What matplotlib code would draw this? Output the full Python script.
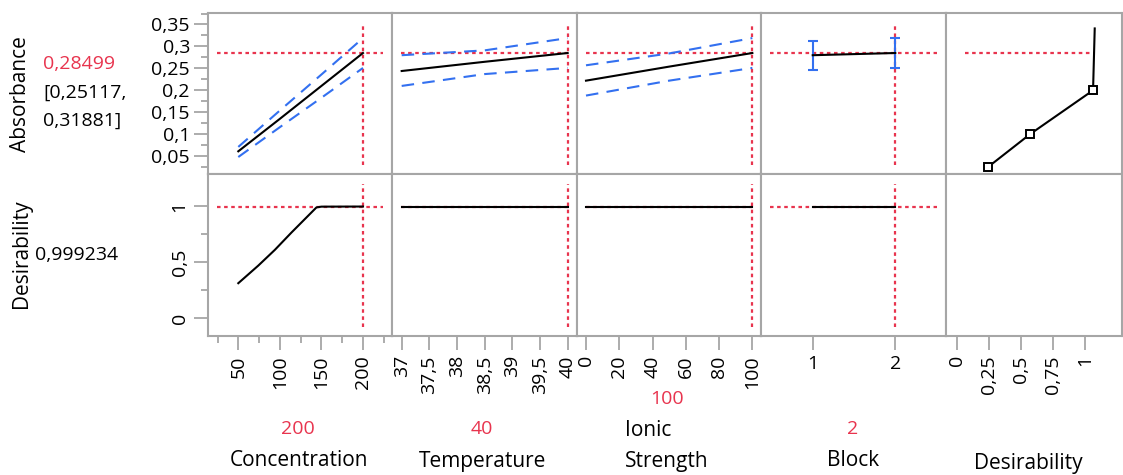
import matplotlib.pyplot as plt
from matplotlib.ticker import FixedLocator

plt.rcParams['font.family'] = ['Open Sans', 'DejaVu Sans']

W, H = 1123, 475
RED = '#E8344E'
BLUE = '#3370F0'
GRAY = '#A6A6A6'

# current factor settings and prediction
conc_now = 200
temp_now = 40
ionic_now = 100
block_now = 2
abs_now = 0.28499
abs_ci = [0.25117, 0.31881]
desir_now = 0.999234

# concentration profile
conc_x = [50, 100, 150, 200]
conc_abs = [0.061, 0.135, 0.210, 0.285]
conc_abs_hi = [0.071, 0.154, 0.236, 0.319]
conc_abs_lo = [0.048, 0.116, 0.183, 0.251]
conc_dx = [50, 74, 94, 114, 144, 150, 200]
conc_d = [0.314, 0.471, 0.612, 0.767, 0.991, 0.998, 0.999]

# temperature profile
temp_x = [37, 38.5, 40]
temp_abs = [0.244, 0.265, 0.285]
temp_abs_hi = [0.280, 0.291, 0.319]
temp_abs_lo = [0.210, 0.237, 0.251]
temp_d = [0.999, 0.999, 0.999]

# ionic strength profile
ionic_x = [0, 50, 100]
ionic_abs = [0.222, 0.254, 0.285]
ionic_abs_hi = [0.257, 0.284, 0.319]
ionic_abs_lo = [0.188, 0.222, 0.251]
ionic_d = [0.999, 0.999, 0.999]

# block profile
block_x = [1, 2]
block_abs = [0.280, 0.285]
block_abs_hi = [0.313, 0.319]
block_abs_lo = [0.247, 0.251]
block_d = [0.999, 0.999]

# desirability function for absorbance
dfun_d = [0.243, 0.57, 1.06, 1.073]
dfun_abs = [0.025, 0.1, 0.2, 0.341]

# axis settings per column
col_edges = [208, 392, 577, 761, 946, 1122]
xlims = [(13.55, 234.9), (36.825, 40.169), (-5.41, 105.2), (0.374, 2.614), (-0.083, 1.285)]
xticks = [[50, 100, 150, 200],
          [37, 37.5, 38, 38.5, 39, 39.5, 40],
          [0, 20, 40, 60, 80, 100],
          [1, 2],
          [0, 0.25, 0.5, 0.75, 1]]
xlabels = [['50', '100', '150', '200'],
           ['37', '37,5', '38', '38,5', '39', '39,5', '40'],
           ['0', '20', '40', '60', '80', '100'],
           ['1', '2'],
           ['0', '0,25', '0,5', '0,75', '1']]
xrot = [90, 90, 90, 0, 90]
abs_ticks = [0.05, 0.1, 0.15, 0.2, 0.25, 0.3, 0.35]
abs_labels = ['0,05', '0,1', '0,15', '0,2', '0,25', '0,3', '0,35']
abs_minor = [0.025, 0.075, 0.125, 0.175, 0.225, 0.275, 0.325, 0.375]
d_ticks = [0, 0.5, 1]
d_labels = ['0', '0,5', '1']


def px(x, y):
    return x / W, 1 - y / H


fig = plt.figure(figsize=(W / 100, H / 100), dpi=100)

rows = [(13.3, 174.3), (174.3, 335.8)]
axes = []
for r, (y0, y1) in enumerate(rows):
    row = []
    for c in range(5):
        x0, x1 = col_edges[c], col_edges[c + 1]
        ax = fig.add_axes([x0 / W, 1 - y1 / H, (x1 - x0) / W, (y1 - y0) / H])
        for s in ax.spines.values():
            s.set_color(GRAY)
            s.set_linewidth(1.5)
        ax.set_xlim(xlims[c])
        if r == 0:
            ax.set_ylim(0.0086, 0.3755)
        else:
            ax.set_ylim(-0.156, 1.287)
        ax.tick_params(which='both', direction='out', color=GRAY, width=1.3,
                       labelsize=14, left=False, bottom=False,
                       labelleft=False, labelbottom=False)
        ax.tick_params(which='major', length=10)
        ax.tick_params(which='minor', length=5)
        row.append(ax)
    axes.append(row)

# y axes on first column
ax = axes[0][0]
ax.set_yticks(abs_ticks)
ax.set_yticklabels(abs_labels)
ax.yaxis.set_minor_locator(FixedLocator(abs_minor))
ax.tick_params(which='both', left=True, labelleft=True, pad=3)
ax = axes[1][0]
ax.set_yticks(d_ticks)
ax.set_yticklabels(d_labels, rotation=90, va='center')
ax.yaxis.set_minor_locator(FixedLocator([0.25, 0.75]))
ax.tick_params(which='both', left=True, labelleft=True, pad=3)
for r in range(2):
    for c in range(1, 5):
        axes[r][c].set_yticks([])
        axes[r][c].yaxis.set_minor_locator(FixedLocator([]))

# x axes on bottom row
for c in range(5):
    for r in range(2):
        axes[r][c].set_xticks(xticks[c])
    ax = axes[1][c]
    ax.set_xticklabels(xlabels[c], rotation=xrot[c])
    ax.tick_params(which='both', bottom=True, labelbottom=True, pad=4)
    axes[0][c].set_xticklabels([])
axes[1][0].xaxis.set_minor_locator(FixedLocator([25, 75, 125, 175, 225]))
axes[0][0].xaxis.set_minor_locator(FixedLocator([]))
for c in range(1, 5):
    axes[1][c].xaxis.set_minor_locator(FixedLocator([]))
    axes[0][c].xaxis.set_minor_locator(FixedLocator([]))

red_kw = dict(color=RED, lw=1.6, dashes=(1.6, 1.6), zorder=1)
ci_kw = dict(color=BLUE, lw=1.5, dashes=(6, 4), zorder=2)
line_kw = dict(color='black', lw=1.5, zorder=3)

profiles = [
    (conc_x, conc_abs, conc_abs_hi, conc_abs_lo, conc_dx, conc_d, conc_now),
    (temp_x, temp_abs, temp_abs_hi, temp_abs_lo, temp_x, temp_d, temp_now),
    (ionic_x, ionic_abs, ionic_abs_hi, ionic_abs_lo, ionic_x, ionic_d, ionic_now),
]

for c, (x, y, hi, lo, dx, d, now) in enumerate(profiles):
    ax = axes[0][c]
    ax.axhline(abs_now, xmin=0.05, xmax=0.95, **red_kw)
    ax.axvline(now, ymin=0.055, ymax=0.94, **red_kw)
    ax.plot(x, hi, **ci_kw)
    ax.plot(x, lo, **ci_kw)
    ax.plot(x, y, **line_kw)
    ax = axes[1][c]
    ax.axhline(desir_now, xmin=0.05, xmax=0.95, **red_kw)
    ax.axvline(now, ymin=0.055, ymax=0.94, **red_kw)
    ax.plot(dx, d, **line_kw)

# block (categorical)
ax = axes[0][3]
ax.axhline(abs_now, xmin=0.05, xmax=0.95, **red_kw)
ax.axvline(block_now, ymin=0.055, ymax=0.94, **red_kw)
err = [[m - l for m, l in zip(block_abs, block_abs_lo)],
       [h - m for m, h in zip(block_abs, block_abs_hi)]]
ax.errorbar(block_x, block_abs, yerr=err, fmt='none', ecolor=BLUE,
            elinewidth=1.5, capsize=3.5, capthick=1.5, zorder=2)
ax.plot(block_x, block_abs, **line_kw)
ax = axes[1][3]
ax.axhline(desir_now, xmin=0.05, xmax=0.95, **red_kw)
ax.axvline(block_now, ymin=0.055, ymax=0.94, **red_kw)
ax.plot(block_x, block_d, **line_kw)

# desirability function panel
ax = axes[0][4]
ax.plot([0.065, dfun_d[-1]], [abs_now, abs_now], **red_kw)
ax.plot(dfun_d, dfun_abs, **line_kw)
ax.plot(dfun_d[:3], dfun_abs[:3], ls='none', marker='s', ms=6, mfc='white',
        mec='black', mew=1.4, zorder=4)

# response labels on the left
fig.text(*px(21, 94), 'Absorbance', rotation=90, ha='center', va='center', fontsize=15)
fig.text(*px(43, 64), '0,28499', color=RED, ha='left', va='center', fontsize=14)
fig.text(*px(43, 93), '[' + '0,25117' + ',', ha='left', va='center', fontsize=14)
fig.text(*px(43, 121), '0,31881' + ']', ha='left', va='center', fontsize=14)
fig.text(*px(22, 254), 'Desirability', rotation=90, ha='center', va='center', fontsize=15)
fig.text(*px(35, 255), '0,999234', ha='left', va='center', fontsize=14)

# factor labels below
fig.text(*px(298, 429), str(conc_now), color=RED, ha='center', va='center', fontsize=14)
fig.text(*px(299, 461), 'Concentration', ha='center', va='center', fontsize=15)
fig.text(*px(482, 429), str(temp_now), color=RED, ha='center', va='center', fontsize=14)
fig.text(*px(483, 461), 'Temperature', ha='center', va='center', fontsize=15)
fig.text(*px(667, 399), str(ionic_now), color=RED, ha='center', va='center', fontsize=14)
fig.text(*px(625, 430), 'Ionic', ha='left', va='center', fontsize=15)
fig.text(*px(625, 461), 'Strength', ha='left', va='center', fontsize=15)
fig.text(*px(853, 429), str(block_now), color=RED, ha='center', va='center', fontsize=14)
fig.text(*px(853, 461), 'Block', ha='center', va='center', fontsize=15)
fig.text(*px(1028, 463), 'Desirability', ha='center', va='center', fontsize=15)

fig.savefig('out.png', dpi=100)
